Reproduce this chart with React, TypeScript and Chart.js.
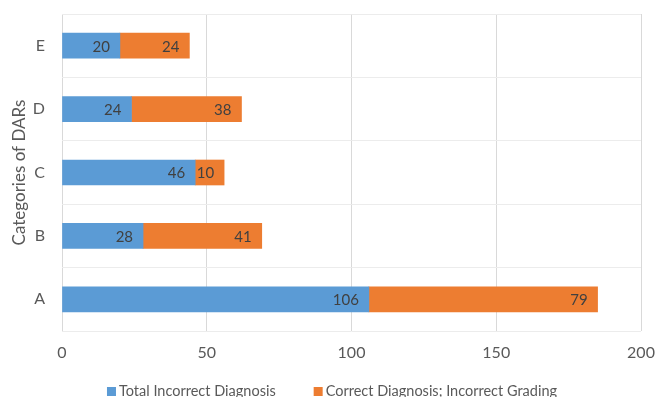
import React, { useEffect, useRef } from "react";
import { Chart, registerables } from "chart.js";

Chart.register(...registerables);

const categories = ["E", "D", "C", "B", "A"];
const totalIncorrect = [20, 24, 46, 28, 106];
const correctIncorrectGrading = [24, 38, 10, 41, 79];
const xTicks = [0, 50, 100, 150, 200];
const seriesNames = ["Total Incorrect Diagnosis", "Correct Diagnosis; Incorrect Grading"];
const seriesColors = ["#5B9BD5", "#ED7D31"];
const FONT = "Lato, 'Open Sans', sans-serif";

const labelPlugin = {
  id: "barLabels",
  afterDatasetsDraw(chart: any) {
    const ctx = chart.ctx;
    ctx.save();
    ctx.font = `15px ${FONT}`;
    ctx.fillStyle = "#404040";
    ctx.textAlign = "right";
    ctx.textBaseline = "middle";
    chart.data.datasets.forEach((ds: any, i: number) => {
      const meta = chart.getDatasetMeta(i);
      meta.data.forEach((el: any, j: number) => {
        ctx.fillText(String(ds.data[j]), el.x - 10, el.y + 1);
      });
    });
    ctx.restore();
  },
};

const legendPlugin = {
  id: "customLegend",
  afterDraw(chart: any) {
    const ctx = chart.ctx;
    ctx.save();
    ctx.font = `14.5px ${FONT}`;
    ctx.textBaseline = "middle";
    ctx.textAlign = "left";
    const box = 9;
    const gapText = 3;
    const gapItem = 38;
    const ds = chart.data.datasets;
    const widths = ds.map((d: any) => ctx.measureText(d.label).width);
    const total = widths.reduce((a: number, w: number) => a + box + gapText + w, 0) + gapItem * (ds.length - 1);
    let x = 332 - total / 2;
    const yc = 391.5;
    ds.forEach((d: any, i: number) => {
      ctx.fillStyle = d.backgroundColor;
      ctx.fillRect(x, yc - box / 2, box, box);
      ctx.fillStyle = "#595959";
      ctx.fillText(d.label, x + box + gapText, yc);
      x += box + gapText + widths[i] + gapItem;
    });
    ctx.restore();
  },
};

export default function App() {
  const ref = useRef<HTMLCanvasElement>(null);
  useEffect(() => {
    const chart = new Chart(ref.current!, {
      type: "bar",
      data: {
        labels: categories,
        datasets: [
          { label: seriesNames[0], data: totalIncorrect, backgroundColor: seriesColors[0], barThickness: 25 },
          { label: seriesNames[1], data: correctIncorrectGrading, backgroundColor: seriesColors[1], barThickness: 25 },
        ],
      },
      options: {
        indexAxis: "y",
        responsive: false,
        animation: false,
        layout: { padding: { top: 14, right: 15, left: 9, bottom: 23 } },
        plugins: {
          tooltip: { enabled: false },
          legend: { display: false },
        },
        scales: {
          x: {
            stacked: true,
            min: 0,
            max: 200,
            afterBuildTicks: (s: any) => {
              s.ticks = xTicks.map((v) => ({ value: v }));
            },
            afterFit: (s: any) => {
              s.height = 43;
              s.paddingRight = 0;
              s.paddingLeft = 0;
            },
            grid: { color: "#d9d9d9", drawTicks: false },
            border: { display: false },
            ticks: { font: { family: FONT, size: 16 }, color: "#595959", padding: 12 },
          },
          y: {
            stacked: true,
            afterFit: (s: any) => {
              s.width = 53;
              s.paddingTop = 0;
              s.paddingBottom = 0;
            },
            grid: { color: "#ececec", drawTicks: false },
            border: { display: false },
            ticks: { font: { family: FONT, size: 16 }, color: "#595959", padding: 17 },
            title: {
              display: true,
              text: "Categories of DARs",
              font: { family: FONT, size: 17 },
              color: "#595959",
              padding: 0,
            },
          },
        },
      },
      plugins: [labelPlugin, legendPlugin],
    });
    return () => chart.destroy();
  }, []);
  return (
    <div style={{ position: "fixed", left: 0, top: 0, width: 656, height: 397, overflow: "hidden", background: "#fff" }}>
      <canvas ref={ref} width={656} height={397} />
    </div>
  );
}
